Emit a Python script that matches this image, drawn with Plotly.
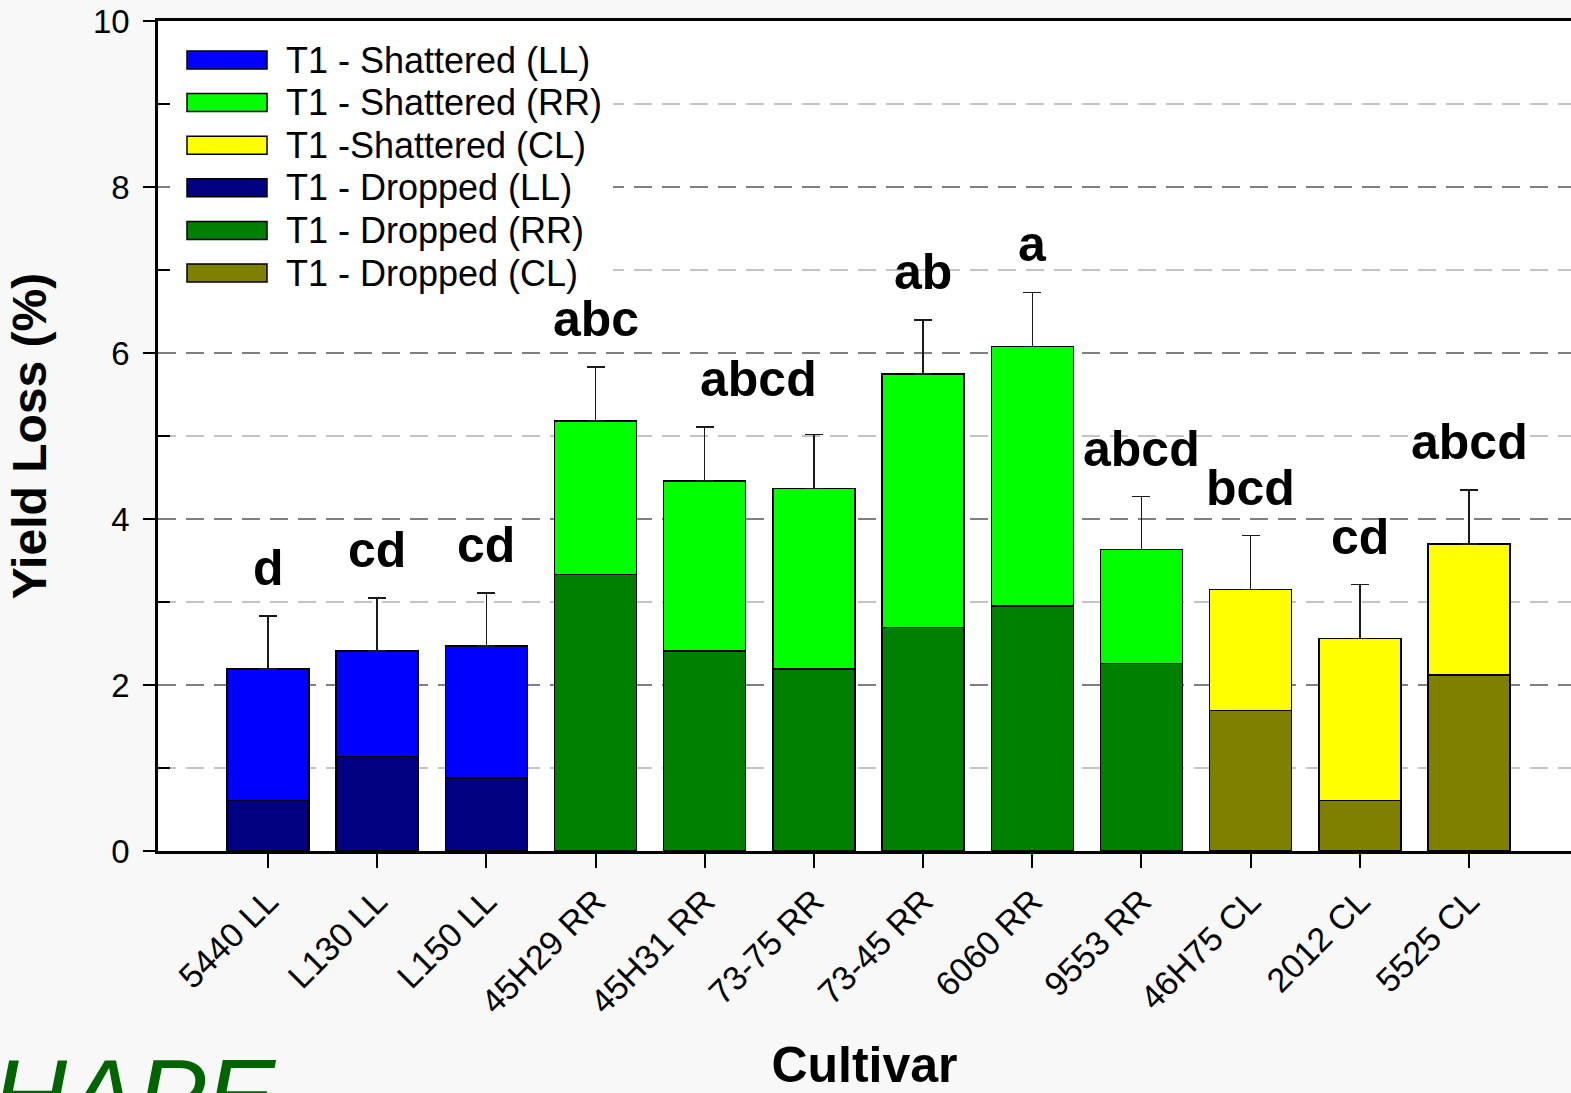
import plotly.graph_objects as go

cultivars = ["5440 LL", "L130 LL", "L150 LL", "45H29 RR", "45H31 RR", "73-75 RR",
             "73-45 RR", "6060 RR", "9553 RR", "46H75 CL", "2012 CL", "5525 CL"]
groups = ["LL", "LL", "LL", "RR", "RR", "RR", "RR", "RR", "RR", "CL", "CL", "CL"]
dropped = [0.61, 1.14, 0.88, 3.33, 2.41, 2.19, 2.69, 2.95, 2.26, 1.69, 0.61, 2.12]
shattered = [1.58, 1.27, 1.59, 1.85, 2.05, 2.18, 3.06, 3.13, 1.37, 1.46, 1.95, 1.58]
error_se = [0.64, 0.64, 0.64, 0.65, 0.65, 0.65, 0.65, 0.65, 0.64, 0.65, 0.65, 0.65]
letters = ["d", "cd", "cd", "abc", "abcd", "", "ab", "a", "abcd", "bcd", "cd", "abcd"]

series_names = ["T1 - Shattered (LL)", "T1 - Shattered (RR)", "T1 -Shattered (CL)",
                "T1 - Dropped (LL)", "T1 - Dropped (RR)", "T1 - Dropped (CL)"]
shatter_colors = {"LL": "#0000FF", "RR": "#00FF00", "CL": "#FFFF00"}
drop_colors = {"LL": "#000080", "RR": "#008000", "CL": "#808000"}
legend_colors = [shatter_colors["LL"], shatter_colors["RR"], shatter_colors["CL"],
                 drop_colors["LL"], drop_colors["RR"], drop_colors["CL"]]

FONT = "Liberation Sans, Arial, sans-serif"
xpos = list(range(len(cultivars)))

fig = go.Figure()
# dropped first (bottom of stack)
for g, name in zip(["LL", "RR", "CL"], series_names[3:]):
    ys = [d if grp == g else None for d, grp in zip(dropped, groups)]
    fig.add_trace(go.Bar(x=xpos, y=ys, name=name, width=0.751,
                         marker=dict(color=drop_colors[g], line=dict(color="black", width=1.5)),
                         showlegend=False))
for g, name in zip(["LL", "RR", "CL"], series_names[:3]):
    ys = [s if grp == g else None for s, grp in zip(shattered, groups)]
    es = [e if grp == g else 0 for e, grp in zip(error_se, groups)]
    fig.add_trace(go.Bar(x=xpos, y=ys, name=name, width=0.751,
                         marker=dict(color=shatter_colors[g], line=dict(color="black", width=1.5)),
                         error_y=dict(type="data", array=es, arrayminus=[0] * len(es), symmetric=False,
                                      color="#1a1a1a", thickness=1.5, width=9),
                         showlegend=False))

# significance letters
for i, lab in enumerate(letters):
    if not lab:
        continue
    top = dropped[i] + shattered[i] + error_se[i]
    fig.add_annotation(x=i, y=top, xref="x", yref="y", text=f"<b>{lab}</b>", showarrow=False,
                       yanchor="bottom", yshift=18, xshift=54 if i == 4 else 0,
                       font=dict(family=FONT, size=50, color="black"))

# manual legend
L, W, T, H = 158, 1413, 21, 830
def px(x):
    return (x - L) / W
def py(y):
    return (T + H - y) / H

fig.add_shape(type="rect", xref="paper", yref="paper", x0=px(170), x1=px(613), y0=py(296), y1=py(38),
              fillcolor="white", line=dict(width=0), layer="above")
for k, (nm, col) in enumerate(zip(series_names, legend_colors)):
    yc = 60 + k * 42.6
    fig.add_shape(type="rect", xref="paper", yref="paper", x0=px(187), x1=px(267),
                  y0=py(yc + 9), y1=py(yc - 9), fillcolor=col, line=dict(color="black", width=1.5),
                  layer="above")
    fig.add_annotation(xref="paper", yref="paper", x=px(284), y=py(yc), xanchor="left", yanchor="middle",
                       text=nm, showarrow=False,
                       font=dict(family=FONT, size=36, color="black"))

# partial logo text at bottom-left
fig.add_annotation(xref="paper", yref="paper", x=px(-10), y=py(1036), xanchor="left", yanchor="top",
                   text="HAPE", showarrow=False,
                   font=dict(family=FONT, size=104, color="#006400", style="italic"))

fig.update_layout(
    width=1571, height=1093,
    margin=dict(l=158, r=0, t=21, b=242, pad=0, autoexpand=False),
    paper_bgcolor="#f8f8f8", plot_bgcolor="white",
    barmode="stack", showlegend=False,
    font=dict(family=FONT, color="black"),
)
fig.update_xaxes(
    range=[-1.0075, 11.934], tickmode="array", tickvals=xpos, ticktext=cultivars,
    tickangle=-45, tickfont=dict(size=34, family=FONT), automargin=False,
    ticks="outside", ticklen=14, tickwidth=2, tickcolor="black",
    showline=True, linecolor="black", linewidth=2.5, mirror=True,
    showgrid=False, zeroline=False,
    title=dict(text="<b>Cultivar</b>", font=dict(size=50, family=FONT), standoff=48),
)
fig.update_yaxes(
    range=[0, 10], tick0=0, dtick=2, tickfont=dict(size=33, family=FONT), automargin=False,
    ticks="outside", ticklen=12, tickwidth=2, tickcolor="black", ticklabelstandoff=7,
    showline=True, linecolor="black", linewidth=2.5,
    showgrid=True, gridcolor="#808080", gridwidth=2, griddash="18px,10px", zeroline=False,
    minor=dict(tick0=1, dtick=2, ticks="inside", ticklen=12, tickwidth=2, tickcolor="black",
               showgrid=True, gridcolor="#c4c4c4", gridwidth=2, griddash="18px,10px"),
    title=dict(text="<b>Yield Loss (%)</b>", font=dict(size=48, family=FONT), standoff=32),
)

fig.write_html("out.html")
